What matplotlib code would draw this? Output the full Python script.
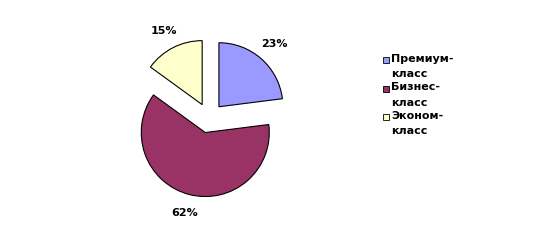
import matplotlib
matplotlib.use("Agg")
import matplotlib.pyplot as plt
from matplotlib.patches import Rectangle

# data
labels = ["Премиум-\nкласс", "Бизнес-\nкласс", "Эконом-\nкласс"]
shares = [23, 62, 15]
colors = ["#9999FF", "#993366", "#FFFFCC"]

W, H = 543, 242
fig = plt.figure(figsize=(W / 100, H / 100), dpi=100)
ax = fig.add_axes([0, 0, 1, 1])

# pie geometry in pixel units (y up)
wedges, texts, autotexts = ax.pie(
    shares,
    colors=colors,
    startangle=90,
    counterclock=False,
    center=(209, H - 118),
    radius=64,
    explode=[15, 15, 15],
    autopct="%1.0f%%",
    pctdistance=1.3,
    wedgeprops=dict(edgecolor="black", linewidth=0.8),
    textprops=dict(fontsize=8, color="black", fontweight="bold"),
    frame=False,
)
ax.set_xlim(0, W)
ax.set_ylim(0, H)
ax.set_aspect("equal")
ax.axis("off")

# legend drawn by hand so the swatch sits on the first text line
y0, pitch = 60, 28.5
for i, (lab, col) in enumerate(zip(labels, colors)):
    yc = H - (y0 + i * pitch)
    ax.add_patch(Rectangle((383, yc - 3), 6, 6, facecolor=col,
                           edgecolor="black", linewidth=0.6))
    ax.text(391, yc + 6, lab, fontsize=8, fontweight="bold", va="top",
            ha="left", linespacing=1.68)

fig.savefig("out.png", dpi=100, facecolor="white")
